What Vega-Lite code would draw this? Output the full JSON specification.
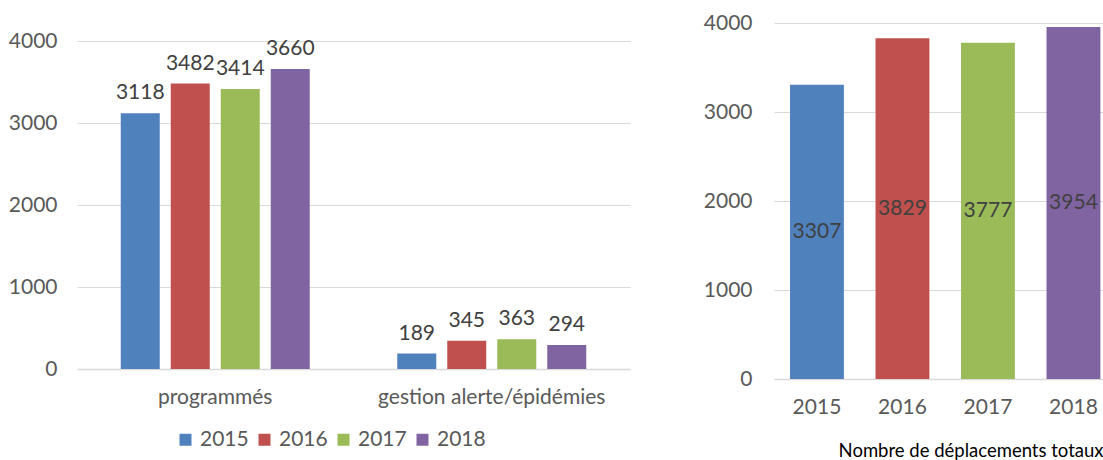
{
  "$schema": "https://vega.github.io/schema/vega-lite/v6.json",
  "padding": {"left": 8, "top": 12, "right": 0, "bottom": 0},
  "autosize": {"type": "pad"},
  "background": "white",
  "config": {
    "font": "Lato",
    "view": {"stroke": null},
    "axis": {"labelFont": "Lato", "labelFontSize": 21, "labelColor": "#595959", "gridColor": "#d9d9d9", "domainColor": "#d9d9d9", "ticks": false, "labelLimit": 0},
    "legend": {"labelFont": "Lato", "labelFontSize": 21, "labelColor": "#595959"},
    "text": {"font": "Lato"}
  },
  "spacing": 144,
  "bounds": "flush",
  "resolve": {"scale": {"color": "independent"}},
  "hconcat": [
    {
      "width": 553,
      "height": 346,
      "data": {"values": [
        {"cat": "programmés", "year": "2015", "value": 3118},
        {"cat": "programmés", "year": "2016", "value": 3482},
        {"cat": "programmés", "year": "2017", "value": 3414},
        {"cat": "programmés", "year": "2018", "value": 3660},
        {"cat": "gestion alerte/épidémies", "year": "2015", "value": 189},
        {"cat": "gestion alerte/épidémies", "year": "2016", "value": 345},
        {"cat": "gestion alerte/épidémies", "year": "2017", "value": 363},
        {"cat": "gestion alerte/épidémies", "year": "2018", "value": 294}
      ]},
      "encoding": {
        "x": {"field": "cat", "type": "nominal", "sort": ["programmés", "gestion alerte/épidémies"], "title": null,
          "scale": {"paddingInner": 0, "paddingOuter": 0},
          "axis": {"labelAngle": 0, "labelPadding": 17, "domain": true, "domainWidth": 1.3, "grid": false}},
        "xOffset": {"field": "year", "type": "nominal", "scale": {"paddingInner": 0.22, "paddingOuter": 0.875}},
        "y": {"field": "value", "type": "quantitative", "title": null,
          "scale": {"domain": [0, 4220], "nice": false},
          "axis": {"values": [0, 1000, 2000, 3000, 4000], "format": "d", "domain": false, "labelPadding": 20}}
      },
      "layer": [
        {
          "mark": {"type": "bar"},
          "encoding": {
            "color": {"field": "year", "type": "nominal",
              "scale": {"domain": ["2015", "2016", "2017", "2018"], "range": ["#4F81BD", "#C0504D", "#9BBB59", "#8064A2"]},
              "legend": {"orient": "none", "legendX": 98, "legendY": 406, "direction": "horizontal", "title": null,
                "symbolType": "square", "symbolSize": 144, "symbolStrokeWidth": 0, "symbolOpacity": 1,
                "columnPadding": 5, "labelOffset": 4}}
          }
        },
        {
          "mark": {"type": "text", "baseline": "alphabetic", "dy": -14, "fontSize": 21, "color": "#404040"},
          "encoding": {"text": {"field": "value", "type": "quantitative", "format": "d"}}
        }
      ]
    },
    {
      "width": 329,
      "height": 356,
      "data": {"values": [
        {"year": "2015", "value": 3307},
        {"year": "2016", "value": 3829},
        {"year": "2017", "value": 3777},
        {"year": "2018", "value": 3954}
      ]},
      "encoding": {
        "x": {"field": "year", "type": "nominal", "title": "Nombre de déplacements totaux",
          "scale": {"paddingInner": 0.37, "paddingOuter": 0.109, "align": 0.86},
          "axis": {"labelAngle": 0, "labelPadding": 17, "domainWidth": 1.3, "titleAnchor": "end", "titleFontSize": 18.5,
            "titleFontWeight": "normal", "titleColor": "#000000", "titleFont": "Lato", "titlePadding": 24}}
      },
      "layer": [
        {
          "mark": {"type": "bar"},
          "encoding": {
            "y": {"field": "value", "type": "quantitative", "title": null,
              "scale": {"domain": [0, 4000], "nice": false},
              "axis": {"values": [0, 1000, 2000, 3000, 4000], "format": "d", "domain": false, "labelPadding": 22}},
            "color": {"field": "year", "type": "nominal",
              "scale": {"domain": ["2015", "2016", "2017", "2018"], "range": ["#4F81BD", "#C0504D", "#9BBB59", "#8064A2"]},
              "legend": null}
          }
        },
        {
          "mark": {"type": "text", "baseline": "middle", "fontSize": 21, "color": "#404040"},
          "encoding": {
            "y": {"field": "value", "type": "quantitative", "scale": {"domain": [0, 8000], "nice": false}, "axis": null},
            "text": {"field": "value", "type": "quantitative", "format": "d"}
          }
        }
      ],
      "resolve": {"scale": {"y": "independent"}}
    }
  ]
}
